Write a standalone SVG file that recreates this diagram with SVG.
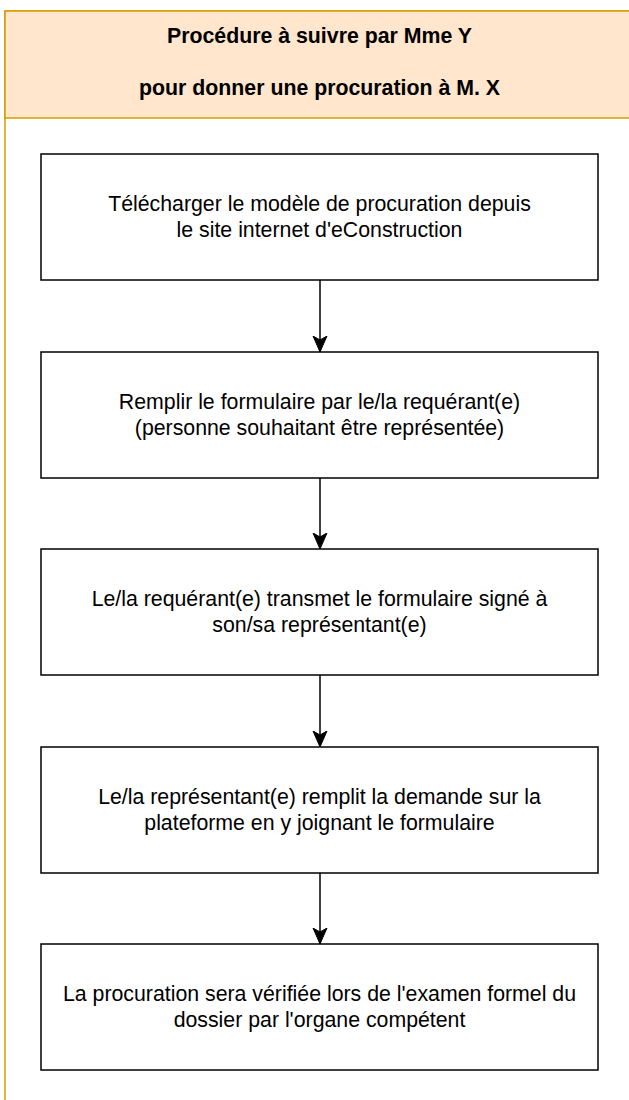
<svg xmlns="http://www.w3.org/2000/svg" width="629" height="1100" viewBox="0 0 629 1100">
<defs>
<style>
.lane{fill:#ffffff;stroke:#d79b00;stroke-width:1.5}
.head{fill:#ffe6cc;stroke:#d79b00;stroke-width:1.5}
.box{fill:#ffffff;stroke:#000000;stroke-width:1.5}
.t{font-family:"Liberation Sans",Arial,sans-serif;font-size:21.3px;fill:#000000;text-anchor:middle}
.b{font-weight:bold}
.edge{stroke:#000000;stroke-width:1.5;fill:none}
</style>
<marker id="arr" viewBox="0 0 16 16" refX="16" refY="8" markerWidth="16" markerHeight="16" markerUnits="userSpaceOnUse" orient="auto">
<path d="M0,1 L16,8 L0,15 L4,8 Z" fill="#000000" stroke="#000000" stroke-width="1"/>
</marker>
</defs>
<g id="container">
<rect class="lane" x="5" y="11" width="629" height="1100"/>
<rect class="head" x="5" y="11" width="629" height="107"/>
<text class="t b" x="319.5" y="43">Procédure à suivre par Mme Y</text>
<text class="t b" x="319.5" y="95">pour donner une procuration à M. X</text>
</g>
<g id="connectors">
<path class="edge" d="M320,280 L320,352" marker-end="url(#arr)"/>
<path class="edge" d="M320,478 L320,549" marker-end="url(#arr)"/>
<path class="edge" d="M320,675 L320,747" marker-end="url(#arr)"/>
<path class="edge" d="M320,873 L320,944" marker-end="url(#arr)"/>
</g>
<g id="step1">
<rect class="box" x="41" y="154" width="557" height="126"/>
<text class="t" x="319.5" y="211">Télécharger le modèle de procuration depuis</text>
<text class="t" x="319.5" y="237">le site internet d'eConstruction</text>
</g>
<g id="step2">
<rect class="box" x="41" y="352" width="557" height="126"/>
<text class="t" x="319.5" y="409">Remplir le formulaire par le/la requérant(e)</text>
<text class="t" x="319.5" y="435">(personne souhaitant être représentée)</text>
</g>
<g id="step3">
<rect class="box" x="41" y="549" width="557" height="126"/>
<text class="t" x="319.5" y="606">Le/la requérant(e) transmet le formulaire signé à</text>
<text class="t" x="319.5" y="632">son/sa représentant(e)</text>
</g>
<g id="step4">
<rect class="box" x="41" y="747" width="557" height="126"/>
<text class="t" x="319.5" y="804">Le/la représentant(e) remplit la demande sur la</text>
<text class="t" x="319.5" y="830">plateforme en y joignant le formulaire</text>
</g>
<g id="step5">
<rect class="box" x="41" y="944" width="557" height="126"/>
<text class="t" x="319.5" y="1001">La procuration sera vérifiée lors de l'examen formel du</text>
<text class="t" x="319.5" y="1027">dossier par l'organe compétent</text>
</g>
</svg>
